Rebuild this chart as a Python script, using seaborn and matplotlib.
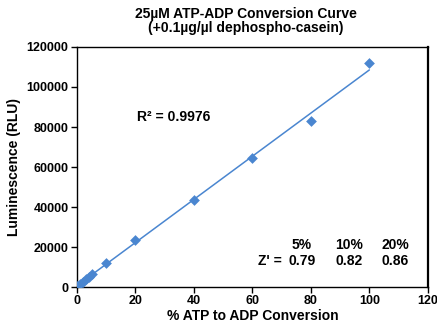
import numpy as np
import matplotlib
matplotlib.use("Agg")
import matplotlib.pyplot as plt
import seaborn as sns

# % ATP to ADP conversion and measured luminescence (RLU)
conversion = [0, 1, 2, 3, 4, 5, 10, 20, 40, 60, 80, 100]
rlu = [300, 1500, 2700, 3900, 5200, 6400, 12000, 23500, 43500, 64500, 83000, 112000]

zprime_labels = ["5%", "10%", "20%"]
zprime_values = ["0.79", "0.82", "0.86"]
r_squared = "0.9976"

BLUE = "#4a86d0"

sns.set_theme(style="white")
plt.rcParams["font.family"] = ["Liberation Sans", "DejaVu Sans"]
plt.rcParams["font.weight"] = "bold"
plt.rcParams["text.color"] = "black"
plt.rcParams["axes.labelcolor"] = "black"
plt.rcParams["xtick.color"] = "black"
plt.rcParams["ytick.color"] = "black"

fig = plt.figure(figsize=(4.37, 3.24), dpi=100)
ax = fig.add_axes([0.176, 0.114, 0.803, 0.741])

# linear fit (trendline)
slope, intercept = np.polyfit(conversion, rlu, 1)
xfit = np.array([min(conversion), max(conversion)])
ax.plot(xfit, slope * xfit + intercept, color=BLUE, lw=1.1, zorder=2)

sns.scatterplot(x=conversion, y=rlu, marker="D", s=30, color=BLUE,
                edgecolor=BLUE, linewidth=0, ax=ax, zorder=3)

ax.set_xlim(0, 120)
ax.set_ylim(0, 120000)
ax.set_xticks(range(0, 121, 20))
ax.set_yticks(range(0, 120001, 20000))
ax.tick_params(axis="both", labelsize=9, length=4, width=1, direction="out",
               left=True, bottom=True, color="black", pad=2)
for lbl in ax.get_xticklabels() + ax.get_yticklabels():
    lbl.set_fontweight("bold")
for sp in ax.spines.values():
    sp.set_color("black")
    sp.set_linewidth(1)
ax.spines["right"].set_linewidth(1.6)

ax.set_xlabel("% ATP to ADP Conversion", fontsize=10, fontweight="bold", labelpad=1)
ax.set_ylabel("Luminescence (RLU)", fontsize=10, fontweight="bold", labelpad=4)

fig.text(0.562, 0.935, "25µM ATP-ADP Conversion Curve\n(+0.1µg/µl dephospho-casein)",
         ha="center", va="center", fontsize=10, fontweight="bold", linespacing=1.0)

ax.text(20.5, 85000, f"R² = {r_squared}", fontsize=10, fontweight="bold",
        ha="left", va="center")

ax.text(70, 13000, "Z' =", fontsize=10, fontweight="bold", ha="right", va="center")
for i, (lab, val) in enumerate(zip(zprime_labels, zprime_values)):
    xc = 77 + i * 15.9
    ax.text(xc, 21000, lab, fontsize=10, fontweight="bold", ha="center", va="center")
    ax.text(xc, 13000, val, fontsize=10, fontweight="bold", ha="center", va="center")

fig.savefig("out.png", dpi=100)
